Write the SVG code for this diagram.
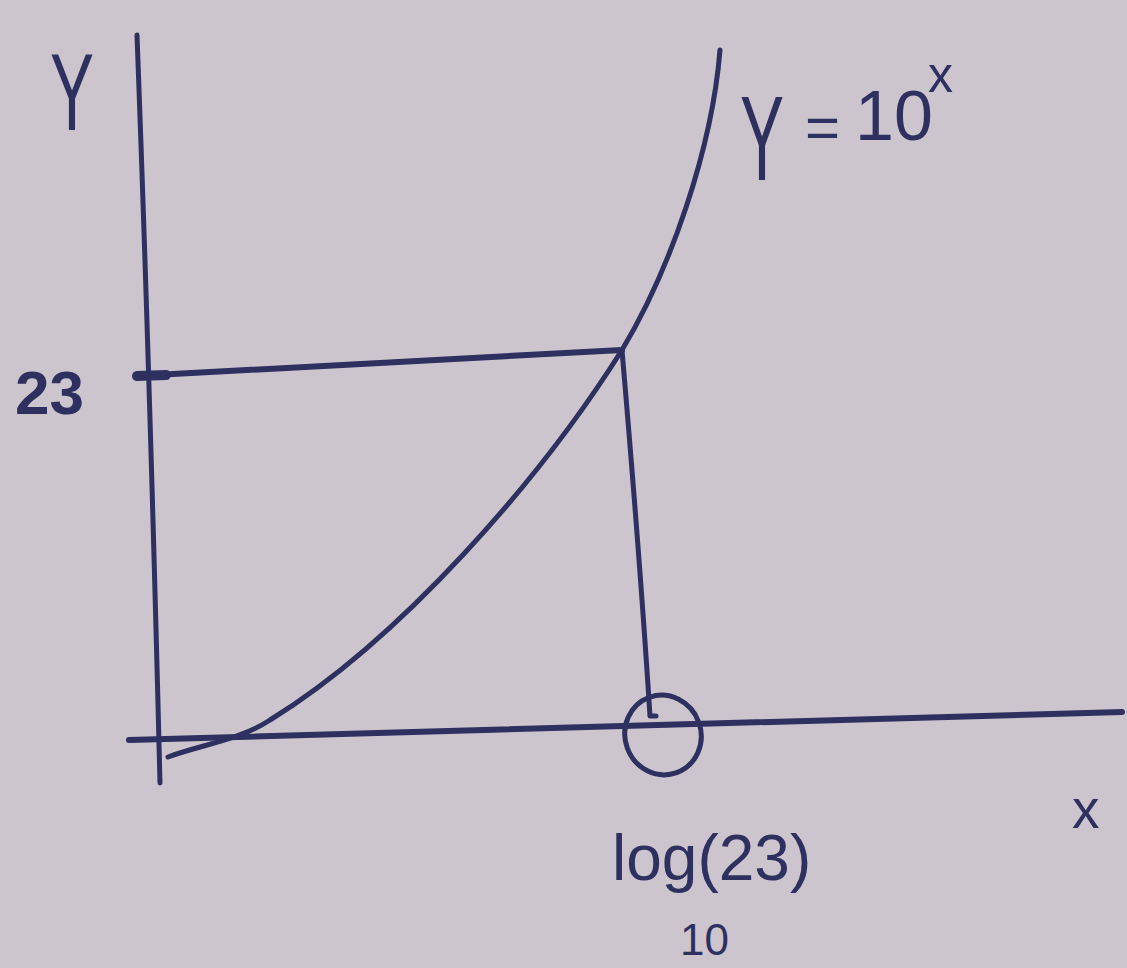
<svg xmlns="http://www.w3.org/2000/svg" width="1127" height="968" viewBox="0 0 1127 968">
<style>
.ink{fill:none;stroke:#2e3060;stroke-linecap:round;stroke-linejoin:round}
.t{fill:#2e3060;font-family:"Liberation Sans","DejaVu Sans",sans-serif}
</style>
<rect width="1127" height="968" fill="#ccc5ce"/>
<g id="axes">
<path class="ink" stroke-width="5" d="M137 35 Q150 380 160 783"/>
<path class="ink" stroke-width="6" d="M129 740 L1122 712"/>
</g>
<g id="connectors">
<path class="ink" stroke-width="6" d="M136 376 L622 350"/>
<path class="ink" stroke-width="10" d="M137 376 L166 375"/>
<path class="ink" stroke-width="5" d="M622 350 Q640 560 650 716 L656 716"/>
</g>
<g id="curve">
<path class="ink" stroke-width="5" d="M168 757 C200 745 240 740 270 720 C400 640 540 480 622 350 C670 270 712 150 720 50"/>
</g>
<g id="circle">
<ellipse class="ink" stroke-width="5" cx="663" cy="735" rx="38" ry="40" transform="rotate(-20 663 735)"/>
</g>
<g id="labels">
<text class="t" x="0" y="0" font-size="110" transform="translate(50 130) scale(0.6 1)">Y</text>
<text class="t" x="0" y="0" font-size="120" transform="translate(740 180) scale(0.55 1)">Y</text>
<text class="t" x="805" y="148" font-size="60">=</text>
<text class="t" x="855" y="140" font-size="70">10</text>
<text class="t" x="928" y="92" font-size="50">x</text>
<text class="t" x="15" y="414" font-size="62" font-weight="bold">23</text>
<text class="t" x="1072" y="828" font-size="55">x</text>
<text class="t" x="612" y="880" font-size="64">log(23)</text>
<text class="t" x="680" y="955" font-size="44">10</text>
</g>
</svg>
